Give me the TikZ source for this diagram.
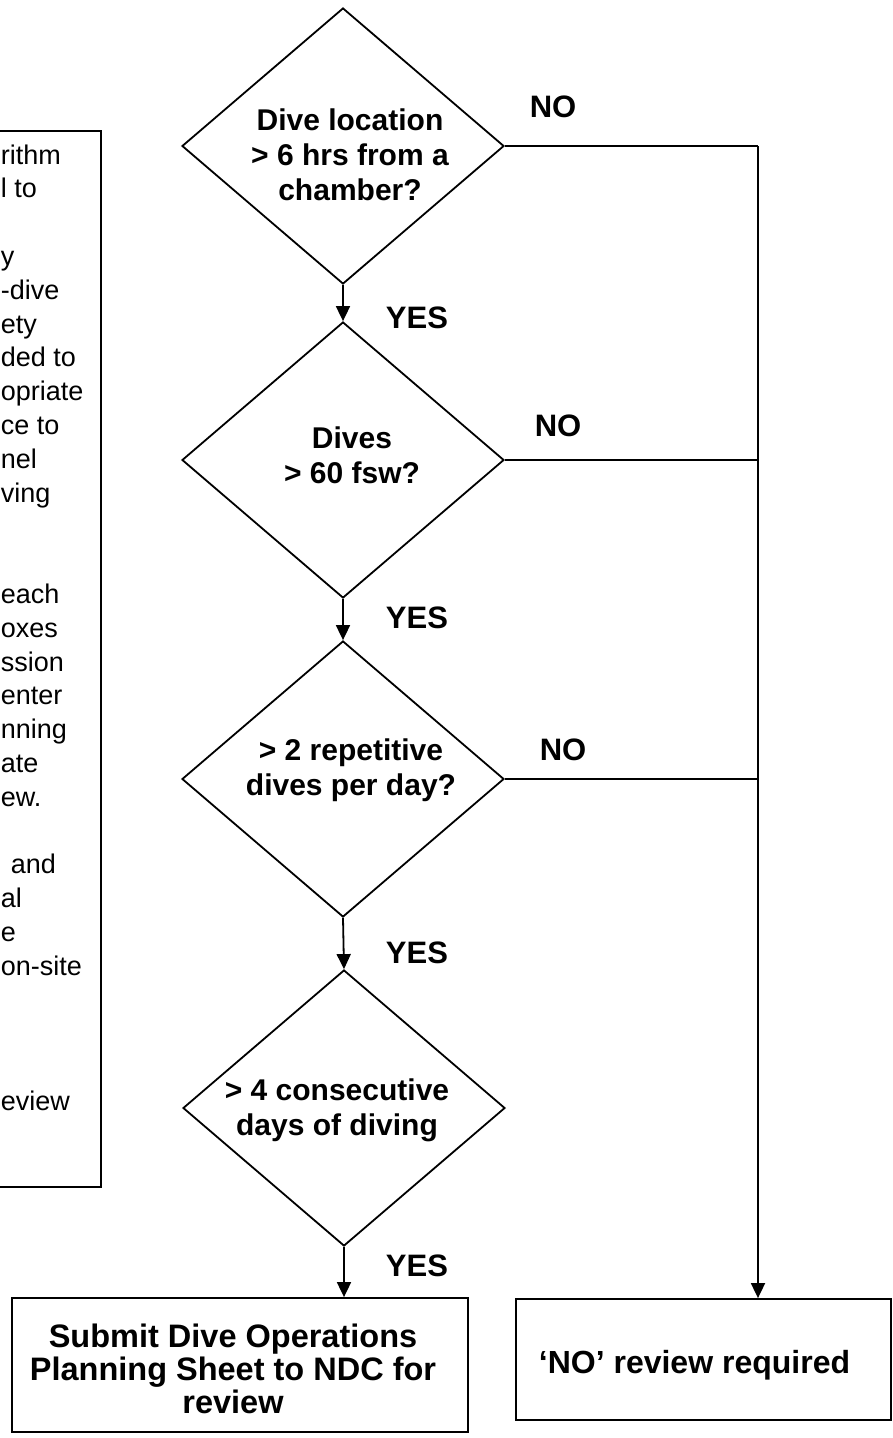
\documentclass[tikz,border=0pt]{standalone}
\usepackage{fontspec}
\setmainfont{Liberation Sans}
\usetikzlibrary{shapes.geometric,arrows.meta}
\begin{document}
\begin{tikzpicture}[x=1pt,y=-1pt,
  line width=1.8pt,
  decision/.style={draw, shape=diamond, minimum width=322pt, minimum height=276pt, inner sep=0pt},
  dtext/.style={align=center, inner sep=0pt, font=\bfseries\fontsize{30}{35}\selectfont},
  lbl/.style={inner sep=0pt, font=\bfseries\fontsize{31}{36}\selectfont},
  endbox/.style={draw, rectangle, inner sep=0pt},
  btext/.style={inner sep=0pt, font=\bfseries\fontsize{32.5}{33}\selectfont},
  arr/.style={-{Triangle[length=15pt,width=14pt]}},
  note/.style={anchor=base west, inner sep=0pt, font=\fontsize{27}{33.8}\selectfont}]
\useasboundingbox (0,0) rectangle (893,1438);
\clip (0,0) rectangle (893,1438);

% clipped note box on the left
\node[draw, minimum width=111pt, minimum height=1056pt, inner sep=0pt] (notebox) at (45.5,659) {};
\foreach \k/\t in {0/rithm,1/l to,3/y,4/-dive,5/ety,6/ded to,7/opriate,8/ce to,9/nel,10/ving,
  13/each,14/oxes,15/ssion,16/enter,17/nning,18/ate,19/ew.,22/al,23/e,24/on-site,28/eview}
  \node[note] (nl\k) at (0,164+33.8*\k) {\t};
\node[note] (nl21) at (10,164+33.8*21) {and};

% decisions
\node[decision] (d1) at (343,146) {};
\node[dtext] (t1) at (350,155) {Dive location\\> 6 hrs from a\\chamber?};
\node[decision] (d2) at (343,460) {};
\node[dtext] (t2) at (352,455) {Dives\\> 60 fsw?};
\node[decision] (d3) at (343,779) {};
\node[dtext] (t3) at (351,770) {> 2 repetitive\\dives per day?};
\node[decision] (d4) at (344,1108) {};
\node[dtext] (t4) at (337,1110) {> 4 consecutive\\days of diving};

% end boxes
\node[endbox, minimum width=456pt, minimum height=134pt] (sub) at (240,1365) {};
\node[btext, align=center] (subt) at (233,1369) {Submit Dive Operations\\Planning Sheet to NDC for\\review};
\node[endbox, minimum width=375pt, minimum height=121pt] (nob) at (703.5,1359.5) {};
\node[btext, anchor=base west, font=\bfseries\fontsize{32}{33}\selectfont] (nobt) at (538,1373) {‘NO’ review required};

% yes connectors
\draw[arr] (d1.south) -- (d2.north);
\draw[arr] (d2.south) -- (d3.north);
\draw[arr] (d3.south) -- (d4.north);
\draw[arr] (d4.south) -- (d4.south |- sub.north);

% no connectors
\coordinate (rj) at (758,146);
\draw (d1.east) -- (rj);
\draw[arr] (rj) -- (rj |- nob.north);
\draw (d2.east) -- (d2.east -| rj);
\draw (d3.east) -- (d3.east -| rj);

% labels
\node[lbl] (no1) at (553,107) {NO};
\node[lbl] (no2) at (558,426) {NO};
\node[lbl] (no3) at (563,750) {NO};
\node[lbl] (y1) at (417,318) {YES};
\node[lbl] (y2) at (417,618) {YES};
\node[lbl] (y3) at (417,953) {YES};
\node[lbl] (y4) at (417,1266) {YES};
\end{tikzpicture}
\end{document}
